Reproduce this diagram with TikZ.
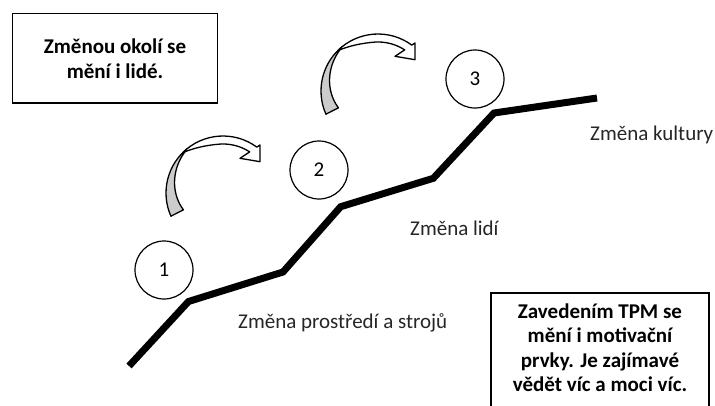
\documentclass[tikz,border=0pt]{standalone}
\usepackage{fontspec}
\setmainfont{Carlito}
\definecolor{backgrey}{RGB}{204,204,204}
\definecolor{labelink}{RGB}{38,38,38}
\begin{document}
\begin{tikzpicture}[x=1pt,y=-1pt,
  every node/.style={font=\fontsize{21}{24.5}\selectfont},
  labeltext/.style={anchor=base west, inner sep=0pt, text=labelink},
  notebox/.style={draw, line width=1.8pt, inner sep=0pt},
  notetext/.style={anchor=base, inner sep=0pt, align=center, font=\fontsize{21}{24.5}\selectfont\bfseries},
  stepcircle/.style={circle, draw, line width=1.2pt, minimum size=58pt, inner sep=0pt},
  arrowline/.style={draw=black, line width=1.3pt, line join=round},
  twistarrow/.pic={
    \begin{scope}[yscale=-1]
      % shaded back face of the ribbon, tapering towards the top
      \path[arrowline, fill=backgrey]
        (204:57) arc[start angle=204, end angle=128, radius=57]
        -- plot[domain=128:203, samples=40] (\x:{57-14*((\x-128)/75)})
        -- cycle;
      % front face with the arrow head
      \path[arrowline, fill=white]
        (135:57) arc[start angle=135, end angle=53.6, radius=57]
        -- (37,48) -- (37,31.3) -- (17,34.7) -- (57:49)
        -- plot[domain=57:135, samples=50] (\x:{49+8*(max(0,(\x-95)/40))^2})
        -- cycle;
    \end{scope}
  }]
\clip (0,0) rectangle (715,405);
\fill[white] (0,0) rectangle (715,405);

% rising path of change
\coordinate (p0) at (129,366);
\coordinate (p1) at (188.5,301.5);
\coordinate (p2) at (283,272);
\coordinate (p3) at (340.7,206.7);
\coordinate (p4) at (433.3,178.3);
\coordinate (p5) at (494,113);
\coordinate (p6) at (597,98);
\draw[line width=7pt] (p0) -- (p1) -- (p2) -- (p3) -- (p4) -- (p5) -- (p6);

% numbered steps
\node[stepcircle] (c1) at (164,270) {1};
\node[stepcircle] (c2) at (319,170) {2};
\node[stepcircle] (c3) at (475,79) {3};

% curved arrows between the steps
\pic (a1) at (223,193) {twistarrow};
\pic (a2) at (378,91) {twistarrow};

% labels of the stages
\node[labeltext] (l1) at (238,328) {Změna prostředí a strojů};
\node[labeltext] (l2) at (410,235) {Změna lidí};
\node[labeltext] (l3) at (590,140) {Změna kultury};

% notes (base anchor sits on the last line)
\node[notebox, minimum width=205pt, minimum height=89.5pt] (b1) at (115,58.25) {};
\node[notetext] (t1) at (115,78) {Změnou okolí se\\mění i lidé.};
\node[notebox, minimum width=218pt, minimum height=122pt] (b2) at (600,353.7) {};
\node[notetext] (t2) at (600,391.7) {Zavedením TPM se\\mění i motivační\\prvky. Je zajímavé\\vědět víc a moci víc.};
\end{tikzpicture}
\end{document}
